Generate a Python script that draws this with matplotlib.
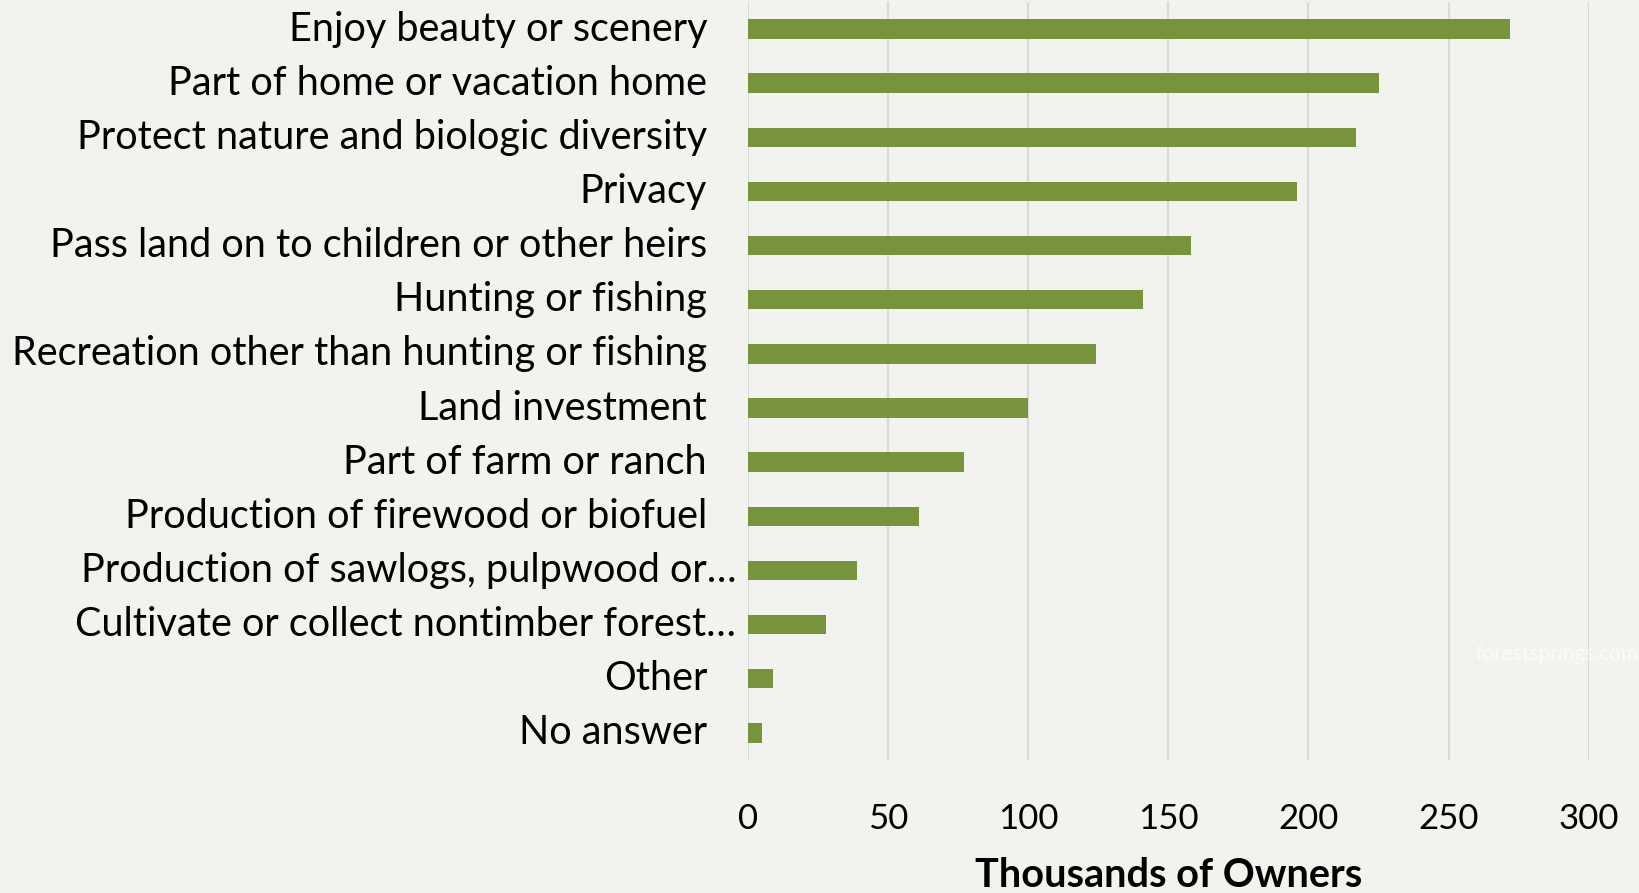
import matplotlib.pyplot as plt
from matplotlib.transforms import ScaledTranslation

# Motivos de los propietarios (de arriba a abajo)
motivos = [
    "Enjoy beauty or scenery",
    "Part of home or vacation home",
    "Protect nature and biologic diversity",
    "Privacy",
    "Pass land on to children or other heirs",
    "Hunting or fishing",
    "Recreation other than hunting or fishing",
    "Land investment",
    "Part of farm or ranch",
    "Production of firewood or biofuel",
    "Production of sawlogs, pulpwood or…",
    "Cultivate or collect nontimber forest…",
    "Other",
    "No answer",
]
propietarios = [272, 225, 217, 196, 158, 141, 124, 100, 77, 61, 39, 28, 9, 5]
ticks_x = [0, 50, 100, 150, 200, 250, 300]

fondo = "#f2f2ee"
verde = "#77933c"

plt.rcParams['font.family'] = ['Lato', 'DejaVu Sans']

fig = plt.figure(figsize=(16.39, 8.93), dpi=100, facecolor=fondo)
ax = fig.add_axes([0.4564, 0.149, 0.5129, 0.8488])
ax.set_facecolor(fondo)

pos = list(range(len(motivos)))
ax.barh(pos, propietarios, height=0.36, color=verde, zorder=3)

ax.set_xlim(0, 300)
ax.set_ylim(len(motivos) - 0.5, -0.5)
ax.set_xticks(ticks_x)
ax.set_xticklabels([str(t) for t in ticks_x])
ax.tick_params(axis='x', length=0, pad=31, labelsize=25)
ax.set_yticks([])
ax.grid(axis='x', color='#d9d9d9', linewidth=1.5, zorder=0)
for s in ax.spines.values():
    s.set_visible(False)

# Etiquetas de categoría alineadas a la derecha
trans = ax.get_yaxis_transform()
for i, m in enumerate(motivos):
    dx = -12 if m.endswith('…') else -41
    off = ScaledTranslation(dx / 100, 0, fig.dpi_scale_trans)
    ax.text(0, i, m, transform=trans + off, ha='right', va='center',
            fontsize=28.5, color='black')

ax.set_xlabel("Thousands of Owners", fontsize=28.5, fontweight='bold', labelpad=16)

fig.text(0.95, 0.268, "forestsprings.com", color='white', alpha=0.7,
         fontsize=15, ha='center', va='center')

fig.savefig("out.png", dpi=100, facecolor=fondo)
